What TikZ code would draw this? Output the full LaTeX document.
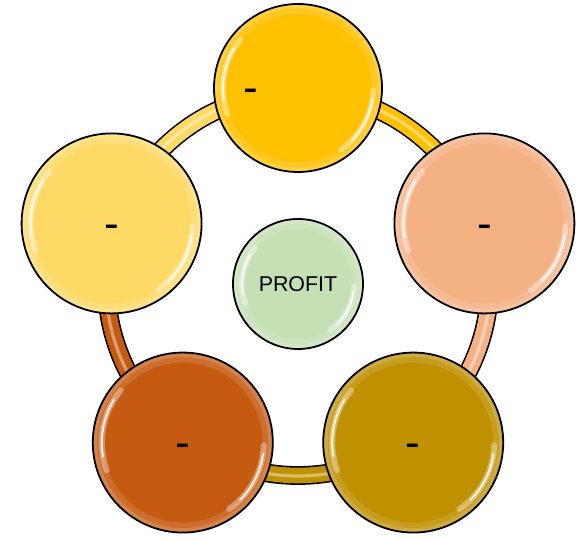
\documentclass[tikz,border=0pt]{standalone}
\usepackage{fontspec}
\setmainfont{Liberation Sans}
\usetikzlibrary{calc}

\definecolor{gold}{HTML}{FFC000}
\definecolor{peach}{HTML}{F4B183}
\definecolor{ochre}{HTML}{BF9000}
\definecolor{rust}{HTML}{C55A11}
\definecolor{cream}{HTML}{FFD966}
\definecolor{sage}{HTML}{C5E0B4}

\newcommand{\blankdash}{\smash{\raisebox{-7.4pt}{-}}}

\begin{document}
\begin{tikzpicture}[x=0.5pt, y=0.5pt,
    ball/.style 2 args={circle, draw=black, line width=0.9pt, fill=#1, minimum size=2*#2, inner sep=0pt,
        path picture={
            \draw[white, opacity=.12, line width=6pt] (path picture bounding box.center) circle[radius=#2-2pt];
            \draw[white, opacity=.15, line width=2.5pt] (path picture bounding box.center) circle[radius=#2-1pt];
            \draw[white, opacity=.35, line width=3pt, line cap=round] (path picture bounding box.center) ++(140:{#2-4.5pt}) arc[start angle=140, end angle=200, radius=#2-4.5pt];
            \draw[white, opacity=.8, line width=1pt, line cap=round] (path picture bounding box.center) ++(148:{#2-4.5pt}) arc[start angle=148, end angle=190, radius=#2-4.5pt];
            \draw[white, opacity=.35, line width=3pt, line cap=round] (path picture bounding box.center) ++(-2:{#2-4.5pt}) arc[start angle=-2, end angle=-55, radius=#2-4.5pt];
            \draw[white, opacity=.8, line width=1pt, line cap=round] (path picture bounding box.center) ++(-8:{#2-4.5pt}) arc[start angle=-8, end angle=-45, radius=#2-4.5pt];
        }},
    band/.style={draw=black, line width=0.8pt, double=#1, double distance=7.8pt},
    glint/.style={draw=white, draw opacity=.4, line width=1.6pt},
    dashtxt/.style={font=\fontsize{22pt}{24pt}\selectfont, inner sep=0pt}]

    \useasboundingbox (0,0) rectangle (583,539);

    \node [ball={sage}{32.5pt}, font=\fontsize{10.7pt}{13pt}\selectfont] (hub) at (298,255) {PROFIT};

    % ring pieces between the balls
    \draw[band=gold]  (hub) ++(90:191.5)  arc[start angle=90,  end angle=18,   radius=191.5];
    \draw[band=peach] (hub) ++(18:191.5)  arc[start angle=18,  end angle=-54,  radius=191.5];
    \draw[band=ochre] (hub) ++(-54:191.5) arc[start angle=-54, end angle=-126, radius=191.5];
    \draw[band=rust]  (hub) ++(234:191.5) arc[start angle=234, end angle=162,  radius=191.5];
    \draw[band=cream] (hub) ++(162:191.5) arc[start angle=162, end angle=90,   radius=191.5];
    \draw[glint] (hub) ++(90:192) arc[start angle=90, end angle=-270, radius=192];

    \node [ball={gold}{42pt}]  (topball)   at ($(hub)+(90:196)$)  {};
    \node [ball={peach}{45pt}, dashtxt] (rightball) at ($(hub)+(18:196)$)  {\blankdash};
    \node [ball={ochre}{45pt}, dashtxt] (lowright)  at ($(hub)+(-54:196)$) {\blankdash};
    \node [ball={rust}{45pt}, dashtxt]  (lowleft)   at ($(hub)+(234:196)$) {\blankdash};
    \node [ball={cream}{45pt}, dashtxt] (leftball)  at ($(hub)+(162:196)$) {\blankdash};

    \node [dashtxt] (toplabel) at ($(topball)+(-47,0)$) {\blankdash};

\end{tikzpicture}
\end{document}
